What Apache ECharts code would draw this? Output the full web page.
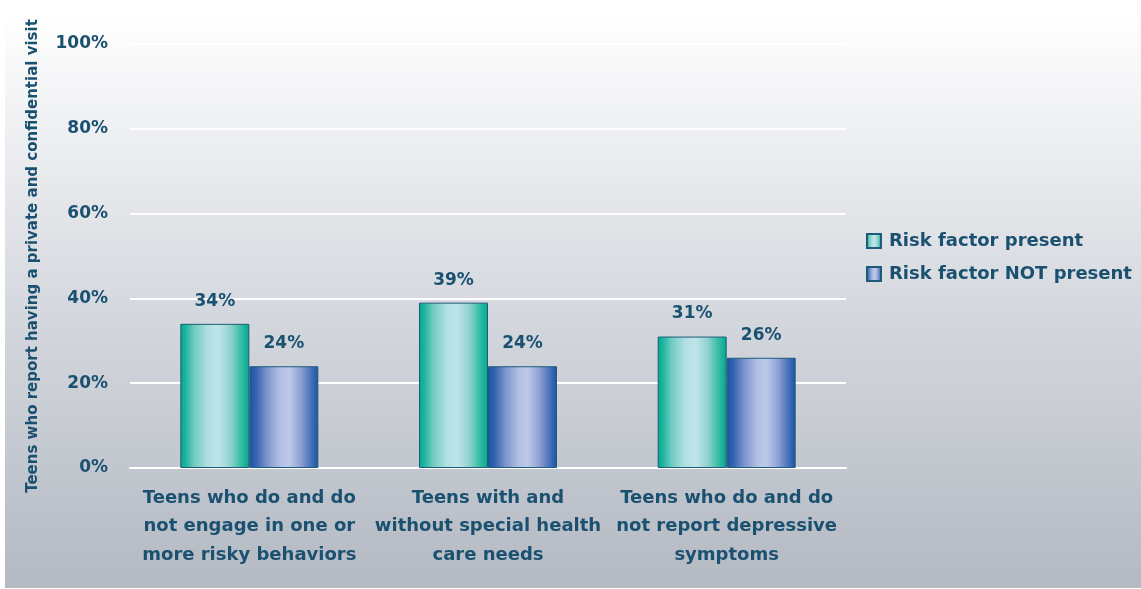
<!DOCTYPE html>
<html><head><meta charset="utf-8">
<script src="https://cdn.jsdelivr.net/npm/echarts@6/dist/echarts.min.js"></script>
<style>html,body{margin:0;padding:0;background:#fff}#c{width:1141px;height:589px}</style>
</head><body><div id="c"></div>
<script>
const categories = ["Teens who do and do\nnot engage in one or\nmore risky behaviors", "Teens with and\nwithout special health\ncare needs", "Teens who do and do\nnot report depressive\nsymptoms"];
const seriesNames = ["Risk factor present", "Risk factor NOT present"];
const presentValues = [34, 39, 31];
const notPresentValues = [24, 24, 26];
const yTicks = [0, 20, 40, 60, 80, 100];

const txt = '#1a5170';
const font = 'DejaVu Sans';
function grad(stops){ return {type:'linear',x:0,y:0,x2:1,y2:0,colorStops:stops.map(s=>({offset:s[0],color:s[1]}))}; }
const greenGrad = grad([[0,'#00a88f'],[0.08,'#20b59f'],[0.2,'#6fcbc2'],[0.4,'#b2dfe2'],[0.55,'#bfe5ea'],[0.72,'#95d3d0'],[0.86,'#3fc0ab'],[1,'#00a88f']]);
const blueGrad = grad([[0,'#1a53a3'],[0.1,'#3564b0'],[0.25,'#7a93cc'],[0.45,'#b4c1e4'],[0.58,'#bdc9ea'],[0.75,'#8d9fd2'],[0.9,'#4570b8'],[1,'#1a53a3']]);

const chart = echarts.init(document.getElementById('c'), null, {renderer:'canvas'});
chart.setOption({
  backgroundColor: '#ffffff',
  animation: false,
  graphic: [{
    type: 'rect', left: 5, top: 13, z: -10, silent: true,
    shape: {width: 1136, height: 575},
    style: {fill: {type:'linear',x:0,y:0,x2:0,y2:1,colorStops:[{offset:0,color:'#ffffff'},{offset:0.5,color:'#d6d9df'},{offset:1,color:'#b4b9c2'}]}}
  }],
  grid: {left: 130, right: 295, top: 44, bottom: 121},
  legend: {
    orient: 'vertical', left: 866, top: 232, padding: 0, itemWidth: 14, itemHeight: 14, itemGap: 15,
    icon: 'rect',
    textStyle: {color: txt, fontFamily: font, fontWeight: 'bold', fontSize: 18, padding: [0,0,0,3]},
    data: seriesNames
  },
  xAxis: {
    type: 'category', data: categories,
    axisLine: {show: true, lineStyle: {color: '#ffffff', width: 2}},
    axisTick: {show: false},
    axisLabel: {color: txt, fontFamily: font, fontWeight: 'bold', fontSize: 18, lineHeight: 28.5, margin: 16, interval: 0}
  },
  yAxis: {
    type: 'value', min: 0, max: 100, interval: 20,
    name: 'Teens who report having a private and confidential visit',
    nameLocation: 'middle', nameGap: 89, nameRotate: 90,
    nameTextStyle: {color: txt, fontFamily: font, fontWeight: 'bold', fontSize: 15},
    axisLine: {show: false}, axisTick: {show: false},
    axisLabel: {color: txt, fontFamily: font, fontWeight: 'bold', fontSize: 17, margin: 22,
      formatter: v => yTicks.includes(v) ? v + '%' : ''},
    splitLine: {lineStyle: {color: '#ffffff', width: 2}}
  },
  series: [
    {name: seriesNames[0], type: 'bar', data: presentValues, barWidth: 69, barGap: '0%',
     itemStyle: {color: greenGrad, borderColor: '#1d5c78', borderWidth: 1},
     label: {show: true, position: 'top', distance: 14, formatter: '{c}%', color: txt, fontFamily: font, fontWeight: 'bold', fontSize: 17}},
    {name: seriesNames[1], type: 'bar', data: notPresentValues, barWidth: 69, barGap: '0%',
     itemStyle: {color: blueGrad, borderColor: '#1d5c78', borderWidth: 1},
     label: {show: true, position: 'top', distance: 14, formatter: '{c}%', color: txt, fontFamily: font, fontWeight: 'bold', fontSize: 17}}
  ]
});
</script></body></html>
